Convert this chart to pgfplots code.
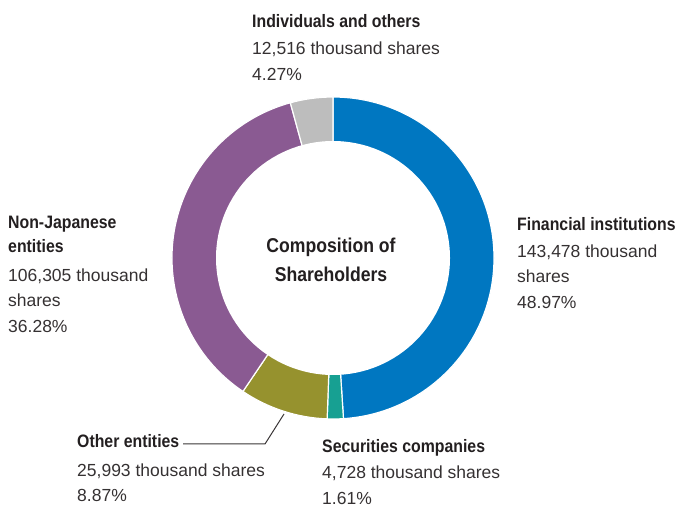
\documentclass[border=0pt]{standalone}
\usepackage{pgfplots}
\pgfplotsset{compat=1.18}
\usepackage{fontspec}
\setmainfont{Liberation Sans}
\newfontfamily\cb{Liberation Sans}[FakeStretch=0.88]
\definecolor{fin}{HTML}{0077C1}
\definecolor{sec}{HTML}{17A092}
\definecolor{oth}{HTML}{96922E}
\definecolor{nonj}{HTML}{8A5A92}
\definecolor{ind}{HTML}{BDBDBD}
\definecolor{txt}{HTML}{231F20}
% shares (thousands)
\def\vFin{143478}
\def\vSec{4728}
\def\vOth{25993}
\def\vNon{106305}
\def\vInd{12516}
\edef\tot{\fpeval{\vFin+\vSec+\vOth+\vNon+\vInd}}
\edef\aA{90}
\edef\aB{\fpeval{\aA-360*\vFin/\tot}}
\edef\aC{\fpeval{\aB-360*\vSec/\tot}}
\edef\aD{\fpeval{\aC-360*\vOth/\tot}}
\edef\aE{\fpeval{\aD-360*\vNon/\tot}}
\edef\aF{\fpeval{\aE-360*\vInd/\tot}}
\newcommand\bl[3]{\node[anchor=base west,inner sep=0pt,text=txt] at (axis cs:#1,508-#2) {\fontsize{18}{20}\selectfont\cb\bfseries #3};}
\newcommand\rl[3]{\node[anchor=base west,inner sep=0pt,text=txt!92] at (axis cs:#1,508-#2) {\fontsize{17.5}{19}\selectfont #3};}
\begin{document}
\begin{tikzpicture}[x=1pt,y=1pt]
\path[use as bounding box] (0,0) rectangle (679,508);
\begin{axis}[at={(0,0)}, anchor=south west, width=679pt, height=508pt, scale only axis,
  xmin=0,xmax=679,ymin=0,ymax=508, hide axis, clip=false]
\addplot[fill=fin, draw=white, line width=1.2pt] coordinates {(333,250)} -- ++(\aA:161pt) arc[start angle=\aA, end angle=\aB, radius=161pt] -- cycle;
\addplot[fill=sec, draw=white, line width=1.2pt] coordinates {(333,250)} -- ++(\aB:161pt) arc[start angle=\aB, end angle=\aC, radius=161pt] -- cycle;
\addplot[fill=oth, draw=white, line width=1.2pt] coordinates {(333,250)} -- ++(\aC:161pt) arc[start angle=\aC, end angle=\aD, radius=161pt] -- cycle;
\addplot[fill=nonj, draw=white, line width=1.2pt] coordinates {(333,250)} -- ++(\aD:161pt) arc[start angle=\aD, end angle=\aE, radius=161pt] -- cycle;
\addplot[fill=ind, draw=white, line width=1.2pt] coordinates {(333,250)} -- ++(\aE:161pt) arc[start angle=\aE, end angle=\aF, radius=161pt] -- cycle;
\fill[white] (axis cs:333,250) circle[radius=117pt];
% center title
\node[inner sep=0pt,text=txt,anchor=base] at (axis cs:331,508-253) {\fontsize{20}{29}\selectfont\cb\bfseries Composition of};
\node[inner sep=0pt,text=txt,anchor=base] at (axis cs:331,508-282) {\fontsize{20}{29}\selectfont\cb\bfseries Shareholders};
% Individuals
\bl{252}{28}{Individuals and others}
\rl{252}{55}{12,516 thousand shares}
\rl{252}{81}{4.27\%}
% Financial
\bl{517}{231}{Financial institutions}
\rl{517}{258}{143,478 thousand}
\rl{517}{283}{shares}
\rl{517}{309}{48.97\%}
% Non-Japanese
\bl{8}{229}{Non-Japanese}
\bl{8}{253}{entities}
\rl{8}{282}{106,305 thousand}
\rl{8}{307}{shares}
\rl{8}{333}{36.28\%}
% Other entities
\bl{77}{448}{Other entities}
\rl{77}{477}{25,993 thousand shares}
\rl{77}{501}{8.87\%}
\draw[line width=1pt, color=txt!90] (axis cs:183,508-444) -- (axis cs:265,508-444) -- (axis cs:284,508-414);
% Securities
\bl{322}{453}{Securities companies}
\rl{322}{478}{4,728 thousand shares}
\rl{322}{504}{1.61\%}
\end{axis}
\end{tikzpicture}
\end{document}
